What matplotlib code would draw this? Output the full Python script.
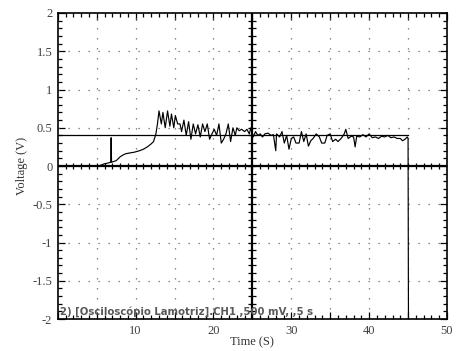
import numpy as np
import matplotlib
matplotlib.use("Agg")
import matplotlib.pyplot as plt
from matplotlib.ticker import MultipleLocator

tempo = [0, 1, 2, 3, 4, 5, 5.5, 6, 6.5, 6.8, 6.85, 6.9, 7.5, 8, 8.3, 8.7, 9.2, 9.8,
         10.5, 11, 11.5, 12, 12.3, 12.6, 12.8, 13.0, 13.3, 13.5, 13.8, 14.1, 14.4,
         14.6, 14.9, 15.1, 15.4, 15.7, 15.9, 16.2, 16.5, 16.8, 17.1, 17.4, 17.7,
         18.0, 18.3, 18.6, 18.9, 19.2, 19.5, 19.8, 20.1, 20.4, 20.7, 21.0, 21.3,
         21.6, 21.9, 22.2, 22.5, 22.8, 23.0, 23.3, 23.6, 24, 24.3, 24.6, 24.8,
         25.1, 25.4, 25.7, 26, 26.3, 26.6, 27, 27.4, 27.7, 28.0, 28.1, 28.5, 28.8,
         29.1, 29.4, 29.7, 30, 30.3, 30.6, 31, 31.3, 31.6, 31.9, 32.2, 32.5, 32.8,
         33.2, 33.6, 33.9, 34.3, 34.6, 35, 35.3, 35.7, 36, 36.4, 36.8, 37.0, 37.3,
         37.7, 38.0, 38.2, 38.4, 38.8, 39.2, 39.6, 40, 40.4, 40.8, 41.2, 41.6, 42,
         42.4, 42.8, 43.2, 43.6, 44, 44.3, 44.6, 44.9, 45.0, 45.05]
tensao = [0, 0, 0, 0, 0, 0, 0.01, 0.03, 0.04, 0.05, 0.37, 0.05, 0.07, 0.12, 0.14,
          0.16, 0.17, 0.18, 0.2, 0.22, 0.25, 0.29, 0.32, 0.42, 0.55, 0.72, 0.55,
          0.70, 0.50, 0.72, 0.52, 0.68, 0.5, 0.66, 0.55, 0.55, 0.45, 0.6, 0.4,
          0.58, 0.35, 0.55, 0.42, 0.54, 0.38, 0.55, 0.45, 0.55, 0.35, 0.42, 0.48,
          0.4, 0.55, 0.3, 0.35, 0.42, 0.55, 0.32, 0.5, 0.4, 0.5, 0.46, 0.48, 0.45,
          0.48, 0.42, 0.5, 0.38, 0.45, 0.4, 0.42, 0.38, 0.42, 0.43, 0.4, 0.41, 0.2,
          0.42, 0.38, 0.45, 0.3, 0.4, 0.22, 0.36, 0.38, 0.3, 0.3, 0.45, 0.32, 0.42,
          0.26, 0.33, 0.36, 0.42, 0.38, 0.3, 0.3, 0.4, 0.42, 0.32, 0.35, 0.32, 0.36,
          0.42, 0.48, 0.36, 0.39, 0.38, 0.25, 0.39, 0.38, 0.41, 0.38, 0.42, 0.37,
          0.38, 0.36, 0.39, 0.38, 0.4, 0.37, 0.38, 0.36, 0.36, 0.33, 0.35, 0.38,
          0.36, -2.0]

referencia = 0.4      # nivel de referencia (V)
t_ref = [0, 45]       # intervalo da referencia (s)
x_xticks = [10, 20, 30, 40, 50]
y_yticks = [2, 1.5, 1, 0.5, 0, -0.5, -1, -1.5, -2]
legenda = "2) [Osciloscópio Lamotriz].CH1 ,500 mV, ,5 s"

fig = plt.figure(figsize=(4.74, 3.51), dpi=100)
ax = fig.add_axes([0.122, 0.091, 0.821, 0.872])

ax.set_xlim(0, 50)
ax.set_ylim(-2, 2)

# grade pontilhada
for gx in np.arange(5, 50, 5):
    ax.axvline(gx, color="0.4", lw=0.9, ls=(0, (1, 7)))
for gy in np.arange(-1.5, 2, 0.5):
    ax.axhline(gy, color="0.4", lw=0.9, ls=(0, (1, 7)))

# eixos centrais com marcas
ax.axhline(0, color="black", lw=1.6)
ax.axvline(25, color="black", lw=1.6)
ax.plot(np.arange(1, 50), np.zeros(49), ls="none", marker="|", ms=5, mew=0.9, color="black")
ax.plot(np.full(39, 25), np.arange(-1.9, 2, 0.1), ls="none", marker="_", ms=6, mew=0.9, color="black")

ax.plot(t_ref, [referencia, referencia], color="black", lw=0.9)
ax.plot(tempo, tensao, color="black", lw=0.85)

ax.xaxis.set_minor_locator(MultipleLocator(1))
ax.yaxis.set_minor_locator(MultipleLocator(0.1))
ax.set_xticks(np.arange(0, 51, 5))
ax.set_xticklabels(["" if v not in x_xticks else str(v) for v in range(0, 51, 5)])
ax.set_yticks(y_yticks)
ax.set_yticklabels([f"{v:g}" for v in y_yticks])
ax.tick_params(which="both", direction="in", top=True, right=True, width=0.9,
               labelcolor="0.25")
ax.tick_params(which="major", length=5, labelsize=9, pad=4)
ax.tick_params(which="minor", length=3)
for lbl in ax.get_xticklabels() + ax.get_yticklabels():
    lbl.set_fontfamily("Liberation Serif")
for s in ax.spines.values():
    s.set_linewidth(1.2)

ax.set_xlabel("Time (S)", family="Liberation Serif", fontsize=9, labelpad=0, color="0.2")
ax.set_ylabel("Voltage (V)", family="Liberation Serif", fontsize=9, labelpad=3, color="0.2")

ax.text(0.3, -1.97, legenda, fontsize=7.3, color="0.35", fontweight="bold",
        family="DejaVu Sans", va="bottom", ha="left")

fig.savefig("out.png", dpi=100)
